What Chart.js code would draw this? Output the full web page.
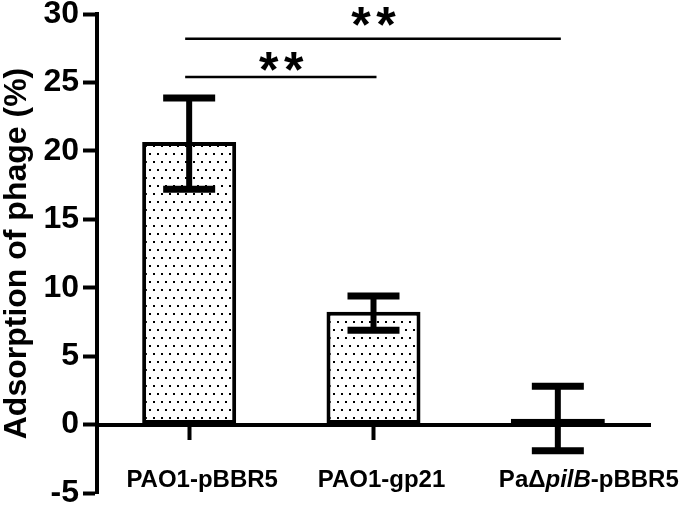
<!DOCTYPE html>
<html>
<head>
<meta charset="utf-8">
<script src="https://cdn.jsdelivr.net/npm/chart.js@4.4.1/dist/chart.umd.min.js"></script>
<style>
  html, body { margin: 0; padding: 0; background: #fff; }
  #wrap { width: 680px; height: 508px; }
</style>
</head>
<body>
<div id="wrap"><canvas id="adsorptionChart" width="680" height="508"></canvas></div>
<script>
// data
const categories = ["PAO1-pBBR5", "PAO1-gp21", "PaΔpilB-pBBR5"];
const italicParts = ["", "", "pilB"];
const meanValues = [20.65, 8.25, 0.42];
const errorLow = [17.2, 6.9, -1.92];
const errorHigh = [23.86, 9.4, 2.8];
const yTicks = [-5, 0, 5, 10, 15, 20, 25, 30];
const brackets = [
  { from: 0, to: 1, value: 25.4, starValue: 25.9, label: "**" },
  { from: 0, to: 2, value: 28.2, starValue: 29.2, label: "**" }
];

const FONT = "Arial, 'Liberation Sans', sans-serif";

// dotted fill like the original
function dotPattern(ctx) {
  const c = document.createElement("canvas");
  c.width = 16;
  c.height = 16;
  const g = c.getContext("2d");
  g.fillStyle = "#fff";
  g.fillRect(0, 0, 16, 16);
  g.fillStyle = "#000";
  [[1, 1], [9, 1], [5, 9], [13, 9]].forEach(([x, y]) => g.fillRect(x, y, 2, 2));
  return ctx.createPattern(c, "repeat");
}

const errorBarPlugin = {
  id: "errorBars",
  afterDatasetsDraw(chart) {
    const ctx = chart.ctx;
    const y = chart.scales.y;
    const meta = chart.getDatasetMeta(0);
    ctx.save();
    ctx.strokeStyle = "#000";
    meta.data.forEach((bar, i) => {
      const top = y.getPixelForValue(errorHigh[i]);
      const bottom = y.getPixelForValue(errorLow[i]);
      ctx.lineWidth = 6;
      ctx.beginPath();
      ctx.moveTo(bar.x, top);
      ctx.lineTo(bar.x, bottom);
      ctx.stroke();
      ctx.lineWidth = 7;
      ctx.beginPath();
      ctx.moveTo(bar.x - 26, top);
      ctx.lineTo(bar.x + 26, top);
      ctx.moveTo(bar.x - 26, bottom);
      ctx.lineTo(bar.x + 26, bottom);
      ctx.stroke();
    });
    ctx.restore();
  }
};

const STAR_SIZE = 50;
const bracketPlugin = {
  id: "brackets",
  afterDraw(chart) {
    const ctx = chart.ctx;
    const x = chart.scales.x;
    const y = chart.scales.y;
    ctx.save();
    ctx.strokeStyle = "#000";
    ctx.fillStyle = "#000";
    ctx.lineWidth = 2.5;
    ctx.font = "bold " + STAR_SIZE + "px " + FONT;
    ctx.textAlign = "center";
    ctx.textBaseline = "alphabetic";
    brackets.forEach(b => {
      const x1 = x.getPixelForTick(b.from);
      const x2 = x.getPixelForTick(b.to);
      const ly = y.getPixelForValue(b.value);
      ctx.beginPath();
      ctx.moveTo(x1 - 4, ly);
      ctx.lineTo(x2 + 3, ly);
      ctx.stroke();
      const mid = (x1 + x2) / 2;
      const sy = y.getPixelForValue(b.starValue) + STAR_SIZE * 0.34;
      const n = b.label.length;
      for (let k = 0; k < n; k++) {
        ctx.fillText(b.label[k], mid + (k - (n - 1) / 2) * 25, sy);
      }
    });
    ctx.restore();
  }
};

// category labels (with italic gene name)
const labelShift = [13, 8, 31];
const xLabelPlugin = {
  id: "xLabels",
  afterDraw(chart) {
    const ctx = chart.ctx;
    const x = chart.scales.x;
    const normal = "bold 24px " + FONT;
    const italic = "italic bold 24px " + FONT;
    ctx.save();
    ctx.fillStyle = "#000";
    ctx.textAlign = "left";
    ctx.textBaseline = "alphabetic";
    categories.forEach((label, i) => {
      let parts = [[label, false]];
      const it = italicParts[i];
      if (it) {
        const k = label.indexOf(it);
        parts = [[label.slice(0, k), false], [it, true], [label.slice(k + it.length), false]];
      }
      let total = 0;
      parts.forEach(p => {
        ctx.font = p[1] ? italic : normal;
        p.push(ctx.measureText(p[0]).width);
        total += p[2];
      });
      let cx = x.getPixelForTick(i) + labelShift[i] - total / 2;
      parts.forEach(p => {
        ctx.font = p[1] ? italic : normal;
        ctx.fillText(p[0], cx, 487);
        cx += p[2];
      });
    });
    ctx.restore();
  }
};

const canvas = document.getElementById("adsorptionChart");
const ctx = canvas.getContext("2d");

new Chart(ctx, {
  type: "bar",
  data: {
    labels: categories,
    datasets: [{
      data: meanValues,
      backgroundColor: dotPattern(ctx),
      borderColor: "#000",
      borderWidth: 4,
      borderSkipped: false,
      barPercentage: 0.51,
      categoryPercentage: 1
    }]
  },
  options: {
    responsive: false,
    animation: false,
    layout: { padding: { top: 14, right: 30, bottom: 15, left: 0 } },
    plugins: {
      legend: { display: false },
      tooltip: { enabled: false }
    },
    scales: {
      x: {
        position: { y: 0 },
        offset: true,
        ticks: { display: false },
        grid: {
          offset: false,
          drawOnChartArea: false,
          drawTicks: true,
          tickLength: 13,
          tickWidth: 4,
          color: "#000"
        },
        border: { display: true, width: 4, color: "#000" }
      },
      y: {
        min: -5,
        max: 30,
        afterBuildTicks: s => { s.ticks = yTicks.map(v => ({ value: v })); },
        afterFit: s => {
          s.width = 97;
          s.paddingTop = 0;
          s.paddingBottom = 0;
        },
        ticks: {
          color: "#000",
          padding: 4,
          font: { family: FONT, size: 32, weight: "bold" }
        },
        grid: {
          drawOnChartArea: false,
          drawTicks: true,
          tickLength: 14,
          tickWidth: 4,
          color: "#000"
        },
        border: { display: true, width: 4, color: "#000" },
        title: {
          display: true,
          text: "Adsorption of phage (%)",
          color: "#000",
          padding: { top: 0, bottom: 0 },
          font: { family: FONT, size: 32, weight: "bold", lineHeight: 1.1 }
        }
      }
    }
  },
  plugins: [errorBarPlugin, bracketPlugin, xLabelPlugin]
});
</script>
</body>
</html>
